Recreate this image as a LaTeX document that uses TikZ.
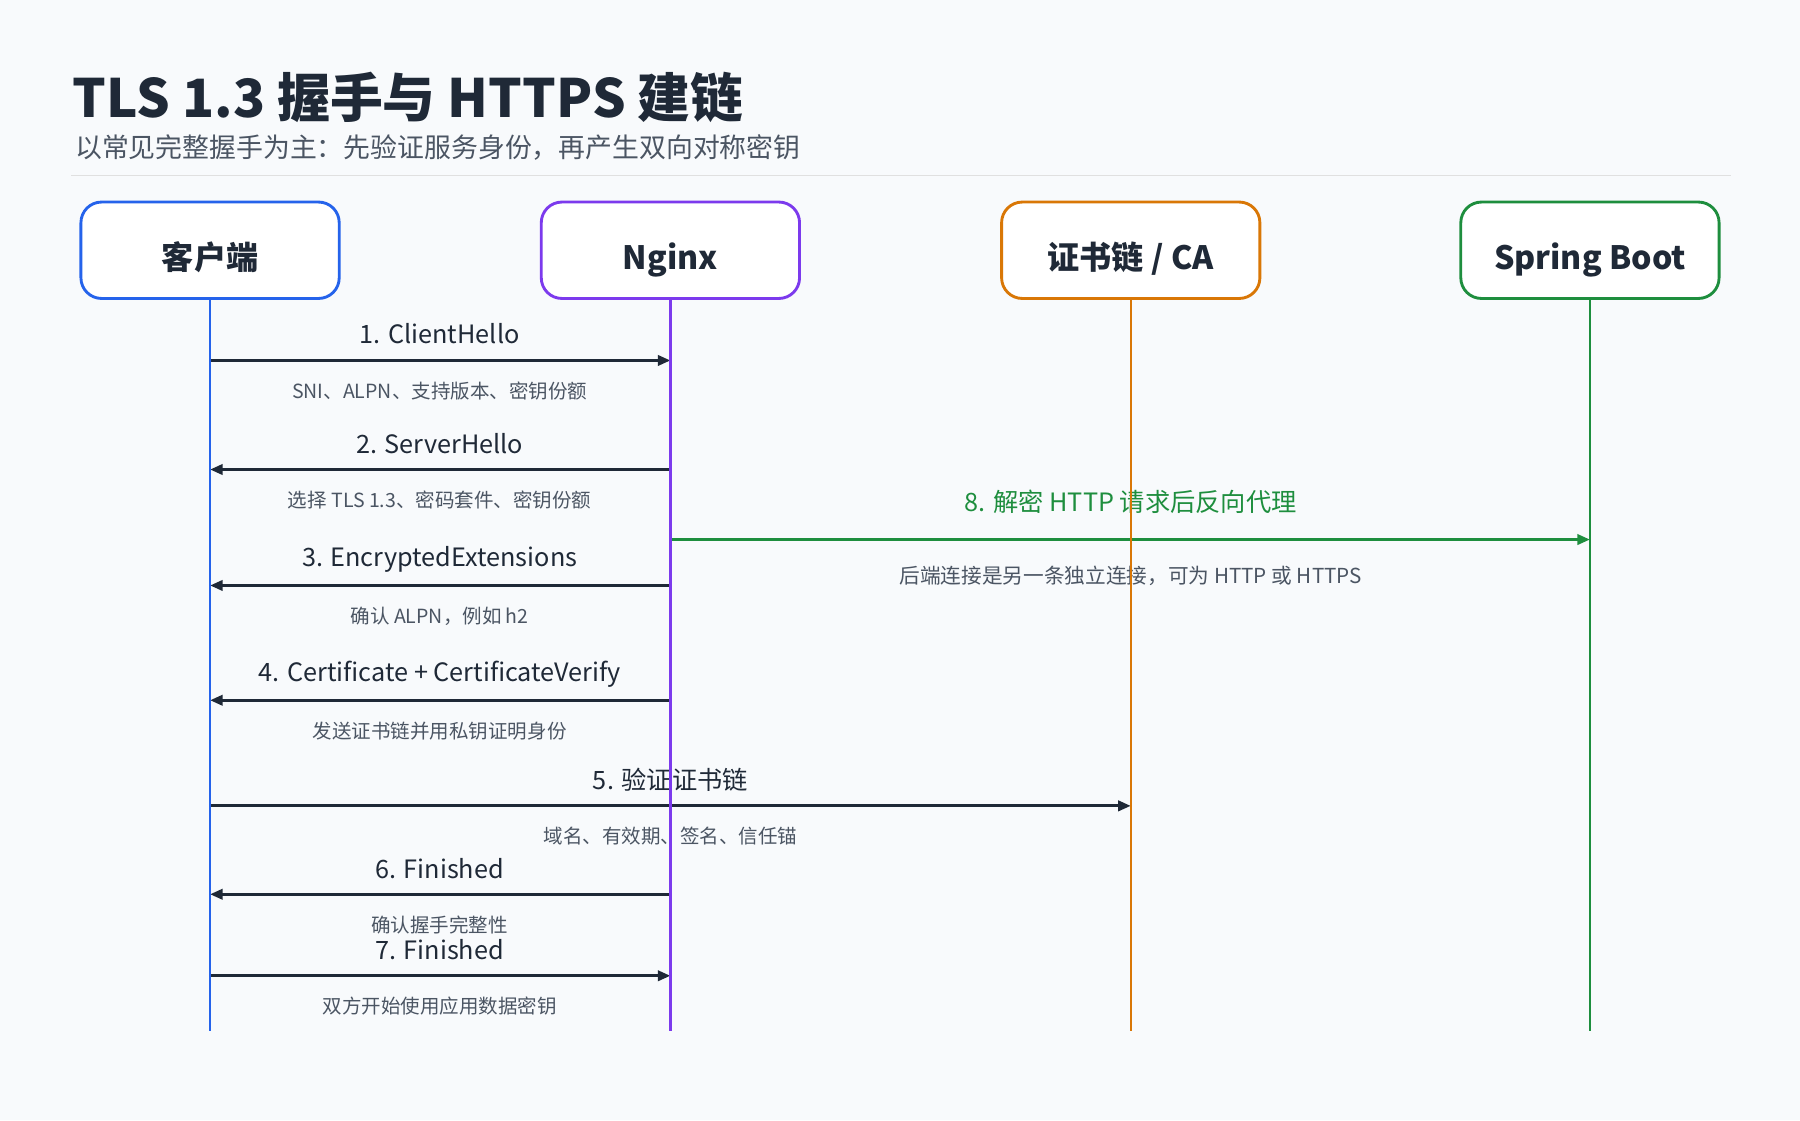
\documentclass[tikz,border=0pt]{standalone}
\usepackage{fontspec}
\setmainfont{Noto Sans CJK SC}
\usetikzlibrary{arrows.meta}
\definecolor{bg}{HTML}{F8FAFC}
\definecolor{ink}{HTML}{1F2937}
\definecolor{sub}{HTML}{4B5563}
\definecolor{cb}{HTML}{2563EB}
\definecolor{cp}{HTML}{7C3AED}
\definecolor{co}{HTML}{D97706}
\definecolor{cg}{HTML}{1E8E3E}
\tikzset{
 actor/.style={draw=#1,line width=2.5pt,rounded corners=18pt,fill=white,minimum width=225pt,minimum height=84pt,text height=34pt,text depth=0pt,font=\fontsize{28}{32}\selectfont\bfseries,text=ink},
 life/.style={draw=#1,line width=2pt},
 msg/.style={draw=ink,line width=2.5pt,-{Triangle[length=11pt,width=9pt]}},
 lab/.style={font=\fontsize{22}{26}\selectfont,text=ink},
 sl/.style={font=\fontsize{17}{20}\selectfont,text=sub},
}
\begin{document}
\begin{tikzpicture}[x=1pt,y=-1pt]
\fill[bg] (0,0) rectangle (1568,976);
\useasboundingbox (0,0) rectangle (1568,976);
\node[anchor=base west,font=\fontsize{46}{50}\selectfont\bfseries,text=ink] (title) at (60,102) {TLS 1.3 握手与 HTTPS 建链};
\node[anchor=base west,font=\fontsize{23.4}{27}\selectfont,text=sub] (subt) at (62,137) {以常见完整握手为主：先验证服务身份，再产生双向对称密钥};
\draw[line width=1.5pt,draw=black!12] (62,153) -- (1508,153);
\node[actor=cb] (c) at (183,218) {客户端};
\node[actor=cp] (n) at (584,218) {Nginx};
\node[actor=co] (a) at (985,218) {证书链 / CA};
\node[actor=cg] (s) at (1385,218) {Spring Boot};
\foreach \n/\x in {c/183,n/584,a/985,s/1385}{\coordinate (\n1) at (\x,314);\coordinate (\n2) at (\x,409);\coordinate (\n3) at (\x,510);\coordinate (\n4) at (\x,610);\coordinate (\n5) at (\x,702);\coordinate (\n6) at (\x,779);\coordinate (\n7) at (\x,850);\coordinate (\n8) at (\x,470);\coordinate (\n e) at (\x,898);}
\draw[msg] (c1) -- (n1);
\node[lab] (l1) at (383,291) {1. ClientHello};
\node[sl] (s1) at (383,341) {SNI、ALPN、支持版本、密钥份额};
\draw[msg] (n2) -- (c2);
\node[lab] (l2) at (383,386) {2. ServerHello};
\node[sl] (s2) at (383,436) {选择 TLS 1.3、密码套件、密钥份额};
\draw[msg] (n3) -- (c3);
\node[lab] (l3) at (383,487) {3. EncryptedExtensions};
\node[sl] (s3) at (383,537) {确认 ALPN，例如 h2};
\draw[msg] (n4) -- (c4);
\node[lab] (l4) at (383,587) {4. Certificate + CertificateVerify};
\node[sl] (s4) at (383,637) {发送证书链并用私钥证明身份};
\draw[msg] (c5) -- (a5);
\node[lab] (l5) at (584,679) {5. 验证证书链};
\node[sl] (s5) at (584,728) {域名、有效期、签名、信任锚};
\draw[msg] (n6) -- (c6);
\node[lab] (l6) at (383,757) {6. Finished};
\node[sl] (s6) at (383,806) {确认握手完整性};
\draw[msg] (c7) -- (n7);
\node[lab] (l7) at (383,827) {7. Finished};
\node[sl] (s7) at (383,876) {双方开始使用应用数据密钥};
\draw[msg,draw=cg] (n8) -- (s8);
\node[lab,text=cg] (l8) at (985,437) {8. 解密 HTTP 请求后反向代理};
\node[sl,font=\fontsize{18}{21}\selectfont] (s8l) at (985,502) {后端连接是另一条独立连接，可为 HTTP 或 HTTPS};
\draw[life=cb] (c.south) -- (ce);
\draw[life=cp] (n.south) -- (ne);
\draw[life=co] (a.south) -- (ae);
\draw[life=cg] (s.south) -- (se);
\end{tikzpicture}
\end{document}
